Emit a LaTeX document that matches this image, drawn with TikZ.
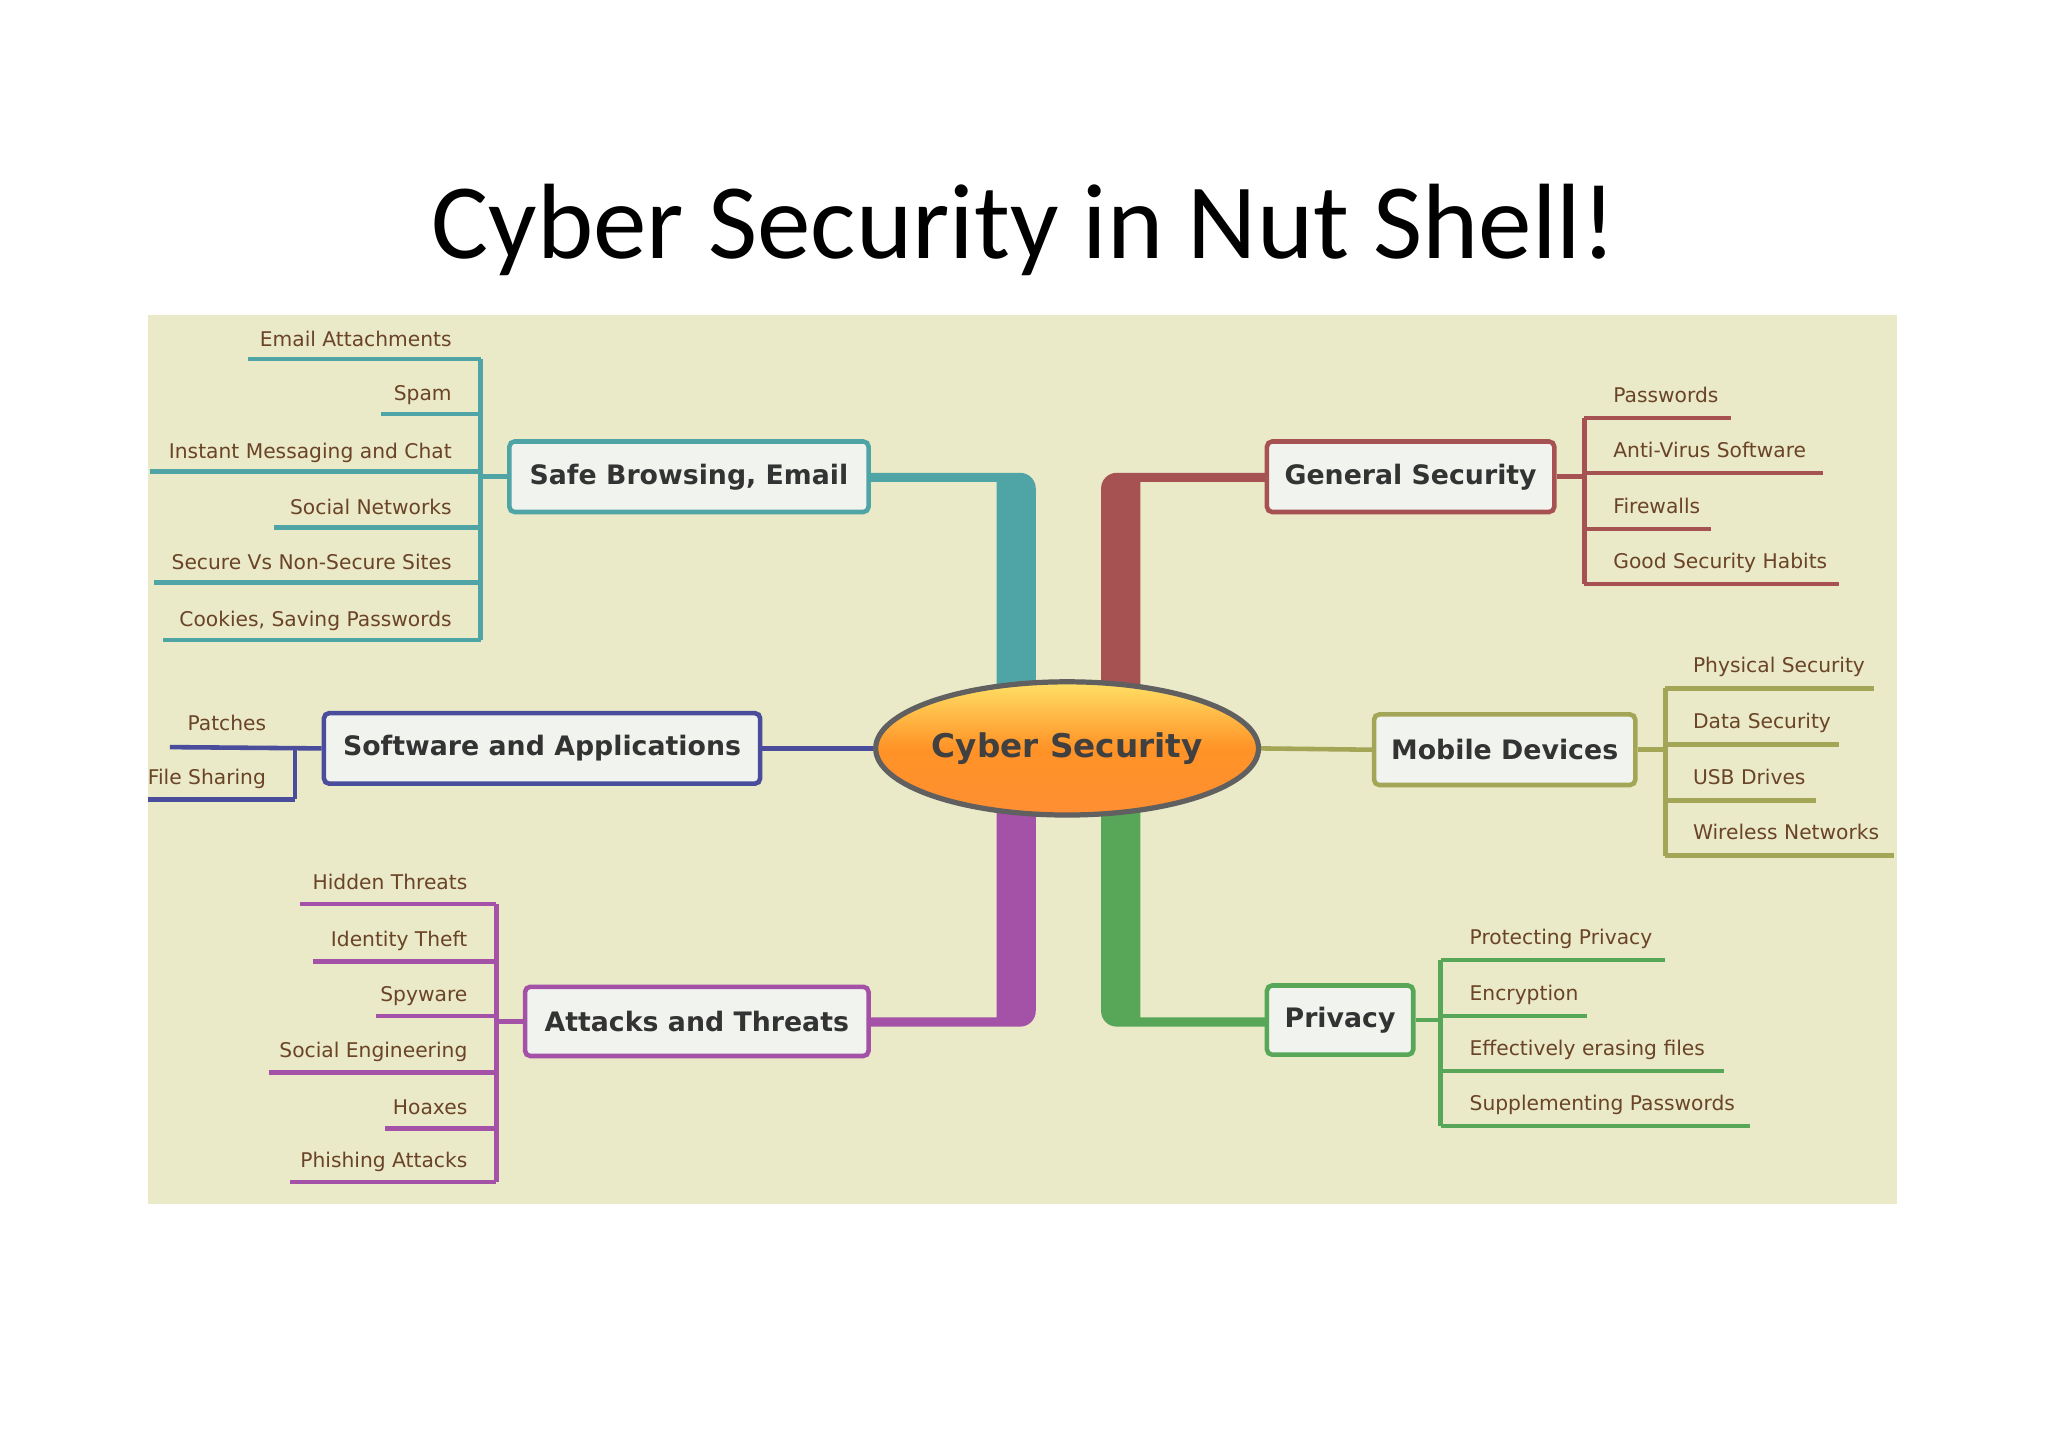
\documentclass[tikz,border=0pt]{standalone}
\usepackage{fontspec}
\usetikzlibrary{shapes.geometric}
\setmainfont{DejaVu Sans}
\newfontfamily\titlefont{Carlito}
\definecolor{panel}{HTML}{EAE9C8}
\definecolor{cteal}{HTML}{4FA5A6}
\definecolor{cred}{HTML}{A65252}
\definecolor{cblue}{HTML}{4A4C9C}
\definecolor{colive}{HTML}{A3A656}
\definecolor{cpurp}{HTML}{A452A8}
\definecolor{cgreen}{HTML}{58A657}
\definecolor{leaftxt}{HTML}{6A4426}
\definecolor{boxfill}{HTML}{F1F4EE}
\tikzset{
 mainbox/.style={draw=#1,line width=3.5pt,fill=boxfill,rounded corners=4pt,font=\fontsize{20.5}{22}\selectfont\bfseries,text=black!80,inner sep=0pt},
 leaf/.style={font=\fontsize{15.5}{17}\selectfont,text=leaftxt,inner sep=0pt},
 lline/.style={draw=#1,line width=3.5pt},
}
\begin{document}
\begin{tikzpicture}[x=1pt,y=-1pt]
\useasboundingbox (0,0) rectangle (1568,1108);
\fill[white] (0,0) rectangle (1568,1108);
\node[font=\titlefont\fontsize{82}{88}\selectfont] (title) at (784,176) {Cyber Security in Nut Shell!};
\fill[panel] (113,241) rectangle (1452,922);

% trunks
\fill[cteal] (763,530) -- (763,369) -- (665,369) -- (665,362) -- (781,362) to[out=0,in=90] (793,374) -- (793,530) -- cycle;
\fill[cred] (873,530) -- (873,369) -- (970,369) -- (970,362) -- (855,362) to[out=180,in=90] (843,374) -- (843,530) -- cycle;
\fill[cpurp] (763,620) -- (763,779) -- (665,779) -- (665,786) -- (781,786) to[out=0,in=270] (793,774) -- (793,620) -- cycle;
\fill[cgreen] (873,620) -- (873,779) -- (970,779) -- (970,786) -- (855,786) to[out=180,in=270] (843,774) -- (843,620) -- cycle;

% center
\node[ellipse,draw=gray!75!black,line width=4pt,minimum width=292pt,minimum height=102pt,
  top color=orange!40!yellow!60,bottom color=orange!90!red!80,middle color=orange!85,
  font=\fontsize{25}{28}\selectfont\bfseries,text=black!75,inner sep=0pt] (center) at (817,573) {Cyber Security};

% boxes
\node[mainbox=cteal,minimum width=275pt,minimum height=54pt] (sb) at (527.5,365) {Safe Browsing, Email};
\node[mainbox=cred,minimum width=220pt,minimum height=54pt] (gs) at (1080,365) {General Security};
\node[mainbox=cblue,minimum width=334pt,minimum height=54pt] (sw) at (415,573) {Software and Applications};
\node[mainbox=colive,minimum width=200pt,minimum height=54pt] (md) at (1152,574) {Mobile Devices};
\node[mainbox=cpurp,minimum width=263pt,minimum height=53pt] (at) at (533.5,782) {Attacks and Threats};
\node[mainbox=cgreen,minimum width=112pt,minimum height=53pt] (pr) at (1026,781) {Privacy};
\draw[lline=cblue] (sw.east) -- (center.west);
\draw[lline=colive] (center.east) -- (md.west);

% Safe browsing leaves
\draw[lline=cteal] (368,275) -- (368,490);
\draw[lline=cteal] (368,365) -- (sb.west);
\foreach \t/\y/\x in {Email Attachments/275/190,Spam/317/292,Instant Messaging and Chat/361/115,Social Networks/404/210,Secure Vs Non-Secure Sites/446/118,{Cookies, Saving Passwords}/490/125}{
  \draw[lline=cteal] (\x,\y) -- (368,\y);
  \node[leaf,anchor=base east] at (346,\y-10) {\t};
}
% General security
\draw[lline=cred] (1213,320) -- (1213,447);
\draw[lline=cred] (gs.east) -- (1213,365);
\foreach \t/\y/\x in {Passwords/320/1325,Anti-Virus Software/362/1396,Firewalls/405/1310,Good Security Habits/447/1408}{
  \draw[lline=cred] (1213,\y) -- (\x,\y);
  \node[leaf,anchor=base west] at (1235,\y-12) {\t};
}
% Software
\draw[lline=cblue] (226,572) -- (226,612);
\draw[lline=cblue] (130,572) -- (sw.west);
\draw[lline=cblue] (113,612) -- (226,612);
\node[leaf,anchor=base east] (patch) at (204,559) {Patches};
\node[leaf,anchor=base west] (fs) at (113,601) {File Sharing};
% Mobile
\draw[lline=colive] (1275,527) -- (1275,655);
\draw[lline=colive] (md.east) -- (1275,574);
\foreach \t/\y/\x in {Physical Security/527/1435,Data Security/570/1408,USB Drives/613/1390,Wireless Networks/655/1450}{
  \draw[lline=colive] (1275,\y) -- (\x,\y);
  \node[leaf,anchor=base west] at (1296,\y-12) {\t};
}
% Attacks
\draw[lline=cpurp] (380,692) -- (380,905);
\draw[lline=cpurp] (380,782) -- (at.west);
\foreach \t/\y/\x in {Hidden Threats/692/230,Identity Theft/736/240,Spyware/778/288,Social Engineering/821/206,Hoaxes/864/295,Phishing Attacks/905/222}{
  \draw[lline=cpurp] (\x,\y) -- (380,\y);
  \node[leaf,anchor=base east] at (358,\y-11) {\t};
}
% Privacy
\draw[lline=cgreen] (1103,735) -- (1103,862);
\draw[lline=cgreen] (pr.east) -- (1103,781);
\foreach \t/\y/\x in {Protecting Privacy/735/1275,Encryption/778/1215,Effectively erasing files/820/1320,Supplementing Passwords/862/1340}{
  \draw[lline=cgreen] (1103,\y) -- (\x,\y);
  \node[leaf,anchor=base west] at (1125,\y-12) {\t};
}
\end{tikzpicture}
\end{document}
